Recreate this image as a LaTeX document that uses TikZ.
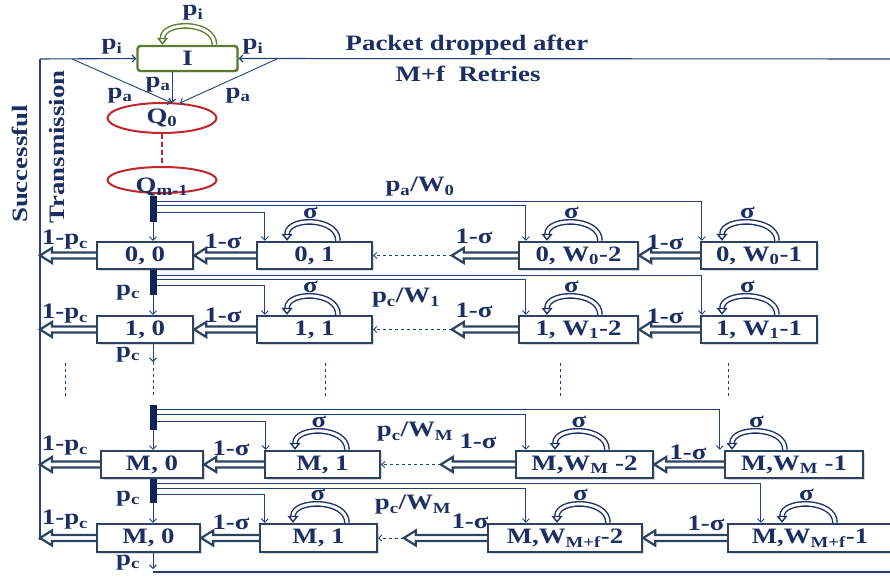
\documentclass[tikz,border=0pt]{standalone}
\usepackage{fontspec}
\setmainfont{Liberation Serif}[FakeStretch=1.22]
\usepackage{xcolor}
\usepackage{tikz}
\usetikzlibrary{arrows.meta,positioning,calc,shapes.geometric,shadows}
\definecolor{Navy}{HTML}{1C2E63}
\definecolor{Slate}{HTML}{2B4262}
\definecolor{LineBlue}{HTML}{24407A}
\definecolor{BarBlue}{HTML}{0E2456}
\definecolor{Olive}{HTML}{5B7B30}
\definecolor{Crimson}{HTML}{C0262C}
\newcommand\lblfont{\fontsize{22}{24}\selectfont\bfseries}
\newcommand\harrow[2]{\draw[hollow] ($(#1)+(0,3)$) -- ($(#2)+(12,3)$) -- ($(#2)+(12,7.5)$) -- (#2) -- ($(#2)+(12,-7.5)$) -- ($(#2)+(12,-3)$) -- ($(#1)+(0,-3)$);}
\newcommand\sig[3]{\draw[sloop] ($(#1.north)+(#3,0)$) .. controls +(0,24) and +(0,24) .. ($(#1.north)+(#2,0)$);
\node[lbl] at ($(#1.north)+({(#2+#3)/2-2},28)$) {σ};}

\begin{document}
\begin{tikzpicture}[x=1pt,y=1pt,
st/.style={draw=Slate,line width=2.4pt,fill=white,minimum height=27pt,inner sep=0pt,font=\lblfont,text=Navy,drop shadow={shadow xshift=1.5pt,shadow yshift=-1.5pt,opacity=.3}},
q/.style={ellipse,draw=Crimson,line width=2pt,minimum width=109pt,inner sep=0pt,font=\lblfont,text=Navy},
bar/.style={fill=BarBlue,minimum width=7pt,inner sep=0pt},
lbl/.style={font=\lblfont,text=Navy,inner sep=0pt},
ln/.style={draw=LineBlue,line width=1.1pt},
fan/.style={draw=LineBlue,line width=.9pt,-{Straight Barb[length=3.5pt,width=7pt]}},
hollow/.style={draw=Slate,line width=2.2pt,fill=white},
sloop/.style={draw=Navy,double=white,double distance=3pt,line width=1.4pt,-{Triangle[open,length=7pt,width=11pt]}},
dsh/.style={draw=LineBlue,line width=.8pt,dashed,-{Straight Barb[length=3pt,width=6pt]}}]
\useasboundingbox (0,0) rectangle (890,-580);

% idle and queue
\node[st,draw=Olive,rounded corners=3pt,minimum width=100pt,minimum height=25pt,drop shadow={opacity=0}] (I) at (187.5,-58.5) {I};
\node[q,minimum height=30pt] (q0) at (162,-118) {Q\textsubscript{0}};
\node[q,minimum height=26pt] (qm) at (162,-180) {};
\node[lbl] at (162,-187) {Q\textsubscript{m-1}};
\draw[Crimson,line width=2.5pt,dash pattern=on 5pt off 3pt] (q0.south) -- (qm.north);
\draw[sloop,draw=Olive] ($(I.north)+(27,0)$) .. controls +(0,24) and +(0,24) .. ($(I.north)+(-25,0)$);
\node[lbl] at (193,-13) {p\textsubscript{i}};

\coordinate (s0) at (40,-59);
\coordinate (s1) at (40,-540);
\coordinate (r0) at (890,-59);
\coordinate (t1) at (72,-59);
\coordinate (t2) at (277,-59);
\coordinate (q0a) at (172,-103);
\coordinate (q0b) at (180,-103);
\draw[ln] (s0) -- (s1);
\draw[fan,line width=1.1pt] (s0) -- (I.west);
\draw[fan,line width=1.1pt] (r0) -- (I.east);
\draw[fan] (t1) -- (q0a);
\draw[fan] (t2) -- (q0b);
\draw[fan] (q0a |- I.south) -- (q0a);
\node[lbl] at (112,-47) {p\textsubscript{i}};
\node[lbl] at (253,-47) {p\textsubscript{i}};
\node[lbl] at (120,-96) {p\textsubscript{a}};
\node[lbl] at (158,-85) {p\textsubscript{a}};
\node[lbl] at (238,-96) {p\textsubscript{a}};
\node[lbl] at (467,-45) {Packet dropped after};
\node[lbl] at (468,-74) {M+f\ \ Retries};
\node[lbl,rotate=90] at (20,-164) {Successful};
\node[lbl,rotate=90] at (57,-147) {Transmission};

% backoff stages
\node[st,minimum width=96pt] (b00) at (145,-255.5) {0, 0};
\node[st,minimum width=115pt] (b01) at (314.5,-255.5) {0, 1};
\node[st,minimum width=119pt] (b0a) at (578.5,-255.5) {0, W\textsubscript{0}-2};
\node[st,minimum width=116pt] (b0b) at (759,-255.5) {0, W\textsubscript{0}-1};
\node[st,minimum width=96pt] (b10) at (145,-329.5) {1, 0};
\node[st,minimum width=115pt] (b11) at (314.5,-329.5) {1, 1};
\node[st,minimum width=119pt] (b1a) at (578.5,-329.5) {1, W\textsubscript{1}-2};
\node[st,minimum width=116pt] (b1b) at (759,-329.5) {1, W\textsubscript{1}-1};
\node[st,minimum width=102pt] (bm0) at (152,-464.5) {M, 0};
\node[st,minimum width=115pt] (bm1) at (322.5,-464.5) {M, 1};
\node[st,minimum width=137pt] (bma) at (584.5,-464.5) {M,W\textsubscript{M} -2};
\node[st,minimum width=138pt] (bmb) at (794,-464.5) {M,W\textsubscript{M} -1};
\node[st,minimum width=103pt,minimum height=28pt] (bf0) at (148.5,-538) {M, 0};
\node[st,minimum width=117pt,minimum height=28pt] (bf1) at (318.5,-538) {M, 1};
\node[st,minimum width=154pt,minimum height=28pt] (bfa) at (565,-538) {M,W\textsubscript{M+f}-2};
\node[st,minimum width=164pt,minimum height=28pt] (bfb) at (810,-538) {M,W\textsubscript{M+f}-1};

\node[bar,minimum height=26pt] (bar0) at (153,-209) {};
\node[bar,minimum height=25pt] (bar1) at (153,-282.5) {};
\node[bar,minimum height=25pt] (barm) at (153,-417.5) {};
\node[bar,minimum height=24pt] (barf) at (153,-491) {};

% fan out from the bars
\draw[fan] ([yshift=8pt]bar0.east) -| ([xshift=2pt]b0b.north west);
\draw[fan] ([yshift=4pt]bar0.east) -| ([xshift=8pt]b0a.north west);
\draw[fan] ([yshift=-3pt]bar0.east) -| ([xshift=9pt]b01.north west);
\draw[fan] (bar0.south) -- (bar0.south |- b00.north);
\draw[fan] ([yshift=7.5pt]bar1.east) -| ([xshift=2pt]b1b.north west);
\draw[fan] ([yshift=3.5pt]bar1.east) -| ([xshift=8pt]b1a.north west);
\draw[fan] ([yshift=-2.5pt]bar1.east) -| ([xshift=9pt]b11.north west);
\draw[fan] (bar1.south) -- (bar1.south |- b10.north);
\draw[fan] ([yshift=8.5pt]barm.east) -| ([xshift=-4pt]bmb.north west);
\draw[fan] ([yshift=3.5pt]barm.east) -| ([xshift=11pt]bma.north west);
\draw[fan] ([yshift=-3.5pt]barm.east) -| ([xshift=2pt]bm1.north west);
\draw[fan] (barm.south) -- (barm.south |- bm0.north);
\draw[fan] ([yshift=8pt]barf.east) -| ([xshift=34pt]bfb.north west);
\draw[fan] ([yshift=3pt]barf.east) -| ([xshift=39pt]bfa.north west);
\draw[fan] ([yshift=-3pt]barf.east) -| ([xshift=6pt]bf1.north west);
\draw[fan] (barf.south) -- (barf.south |- bf0.north);
\node[lbl] at (420,-187) {p\textsubscript{a}/W\textsubscript{0}};
\node[lbl] at (406,-298) {p\textsubscript{c}/W\textsubscript{1}};
\node[lbl] at (415,-432) {p\textsubscript{c}/W\textsubscript{M}};
\node[lbl] at (413,-505) {p\textsubscript{c}/W\textsubscript{M}};
\node[lbl] at (128,-293) {p\textsubscript{c}};
\node[lbl] at (128,-499) {p\textsubscript{c}};

% countdown
\coordinate (d0) at ($(b0a.west)+(-66,0)$);
\coordinate (d1) at ($(b1a.west)+(-66,0)$);
\coordinate (dm) at ($(bma.west)+(-74,0)$);
\coordinate (df) at ($(bfa.west)+(-83,0)$);
\harrow{b00.west}{b00.west -| s0}
\harrow{b01.west}{b00.east}
\harrow{b0a.west}{d0}
\draw[dsh] (d0) -- (b01.east);
\harrow{b0b.west}{b0a.east}
\harrow{b10.west}{b10.west -| s0}
\harrow{b11.west}{b10.east}
\harrow{b1a.west}{d1}
\draw[dsh] (d1) -- (b11.east);
\harrow{b1b.west}{b1a.east}
\harrow{bm0.west}{bm0.west -| s0}
\harrow{bm1.west}{bm0.east}
\harrow{bma.west}{dm}
\draw[dsh] (dm) -- (bm1.east);
\harrow{bmb.west}{bma.east}
\harrow{bf0.west}{bf0.west -| s0}
\harrow{bf1.west}{bf0.east}
\harrow{bfa.west}{df}
\draw[dsh] (df) -- (bf1.east);
\harrow{bfb.west}{bfa.east}
\foreach \y in {-240,-314,-446,-520} \node[lbl] at (65,\y) {1-p\textsubscript{c}};
\node[lbl] at (223,-241) {1-σ};
\node[lbl] at (474,-236) {1-σ};
\node[lbl] at (665,-242) {1-σ};
\node[lbl] at (223,-315) {1-σ};
\node[lbl] at (474,-310) {1-σ};
\node[lbl] at (665,-316) {1-σ};
\node[lbl] at (231,-448) {1-σ};
\node[lbl] at (478,-441) {1-σ};
\node[lbl] at (688,-452) {1-σ};
\node[lbl] at (231,-522) {1-σ};
\node[lbl] at (470,-521) {1-σ};
\node[lbl] at (706,-523) {1-σ};

% self loops
\sig{b01}{-27.5}{23.5} \sig{b0a}{-31.5}{21.5} \sig{b0b}{-37}{18}
\sig{b11}{-27.5}{23.5} \sig{b1a}{-31.5}{21.5} \sig{b1b}{-37}{18}
\sig{bm1}{-27.5}{24.5} \sig{bma}{-29.5}{22.5} \sig{bmb}{-62}{-9}
\sig{bf1}{-25.5}{28.5} \sig{bfa}{-8}{43} \sig{bfb}{-28}{25}

% between stages
\coordinate (e1) at (153,-362);
\coordinate (e2) at (153,-569);
\draw[fan] (bar1.south |- b10.south) -- (e1);
\draw[LineBlue,line width=.8pt,dashed] (e1) -- (153,-398);
\foreach \x in {65,325,560,728} \draw[LineBlue,line width=.8pt,dashed] (\x,-363) -- (\x,-398);
\draw[fan] (barf.south |- bf0.south) -- (e2);
\draw[ln] (153,-572) -- (890,-572);
\node[lbl] at (128,-355) {p\textsubscript{c}};
\node[lbl] at (128,-563) {p\textsubscript{c}};
\end{tikzpicture}
\end{document}
